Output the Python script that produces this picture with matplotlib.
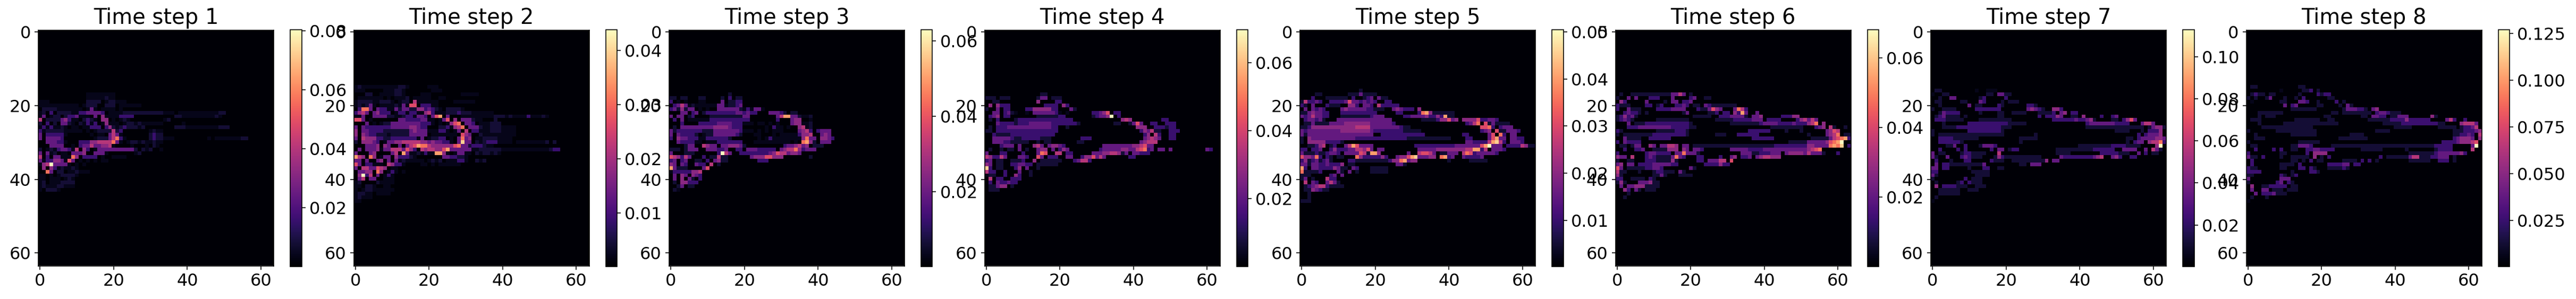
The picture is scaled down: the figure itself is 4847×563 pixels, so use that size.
import numpy as np
import matplotlib
matplotlib.use("Agg")
import matplotlib.pyplot as plt

plt.rcParams['font.size'] = 16

# One string per image row, starting at row 15; each character is one cell, a share of the panel maximum.
# . faint   - 0.05   1..9 tenths   X 1.0   (spaces are only for reading; missing cells are faint)
STEP_1 = ["", "",
"..........  ...-------  -",
"..........  ...-----1-  -",
"---.......  ...1111.-1  1---",
"----------  -.-111..11  1.------",
".1111-----  --.-3-.---  -.-",
"-1.2.1111-  -2233332.-  ---1111111  1111---.--  ---------1  1",
"-3.-11.122  3---.3.4--  --2222....  .......11-  --------1-",
"5.1111342-  -.121-.44.  -.-1-.....  ....-1",
"1.2.1.331-  .1-2-2.-4-  --.-11-1--  ----.....-",
"-2-2--1-.-  -.--222.24  1-12111-1.  .......111  ---------1  11",
"2-11111---  --.-.-1111  512.......  -1--",
"3.22222-..  ....-.--.3  53-.......  1211",
"3.33332...  .....-1113  572-......  1211---...  ......-.--  -----11",
"..33322-..  .222445555  73-.-11-1-  -1--",
"...3333..-  .233533445  -....-...-  .1-",
"1.-1-2332-  5.42.-3333  3333331.1-  1..-",
"3.3-1.--.3  334..333-.  ......-1",
"5.2.33---7  4.2222.-..  ----",
"3-2244 3-6  3.-.-.-.--",
"-45X3333-.  -.-",
".4.42-1--1  -",
"..73.11.--  1---",
"--.-.-1111  -",
"--.---.-1-",
"-1.---1111",
"-1---11---",
"-.111-",
"", "", ""]

STEP_2 = [
"-1--------  --11-.....  ---",
"---.....--  -11-......  .---",
"...11..---  -11-....--  -........-  ----",
".-------.-  .---1.----  -..--",
"-1111--111  -.-11.5---  ---....---  ---",
"-1-13-.---  -1-3-66.22  2--.......",
".2773.322-  -313311442  321-.1111-",
"2453.34222  .-22-22--4  52---11121  11------..",
"--3..33331  1--122-332  .368.3...-  --------11  1-1----2--  -1-",
"663.-.....  ..33222233  --.-36.4.3  331--...1.",
"...3.-.-11  3333333322  2-.-.-467.  332.---111",
"3.32222222  3333344322  ...112-457  .3331--111  ----",
"4.33222211  1111134333  ---22-.-3.  5.22---111  ----",
"4.4322111-  1111133333  .-------.6  43..1-----  ----",
"3.54442211  2222222-3.  -1122.-.37  34.--1111-  ---",
"1.44432.-3  3445555544  343322-.39  33.1-1222-  ---.------  --1.1",
"...3334.43  ..3.356877  5444444673  31222 1--",
".3.3334-33  5553642.54  5544683333  33--111111  ----------  ---1 22",
"3...34....  35.83--1-2  --884-.-33  --.1-11-1-  ..........",
"8 5 4.7 4.-3 3  .422 21-...  ....3 3 2 2 1 1  -.....",
"33.3..34.3  .3-1-----.  -1-1.---22  -..1-1",
"63.22---.5  422-....--  .-.------.",
"3.5533654.  --.......",
".3344.74.-  2-.-",
".4X25.3.-2  -.",
".35.33..--  -",
"-1....1---  -",
"--.11-..--",
"-.-11-----  -",
"-11--.----",
"-1---.",
"--"]

STEP_3 = [
"", "",
"..........  ......1...",
"11.11...11  ....1.2.11",
"2.-.-...--  ....3.1122",
".2353-1---  ---33-1123",
"231 4 1 3 3.-.-  ..3333331-  2-33-....",
"...33.23.1  2222222233  2322...333  21.11.",
"3.33.12...  .111111111  33.......3  58 8 3 3 1--1",
".2.3.-----  -222222222  22.......2  ...34 4..-.",
"...2....22  2223333222  ---.--.-.-  ...344--1.",
".1.3333333  3344443222  ......-.2-  -.-..45-1",
"3122222221  1133333332  ---.-.-.--  -....3 4 5 2.  2 3 3 3",
"3.322221.-  1133333321  ...--...-.  -----2 4 4 5.  .3 4 3",
"2.433222--  222222 1...  ....-.-2--  ------47 33  .4432",
"..32222--.  ---2222222  ...-------  ---.-.7841  .333",
"....133..5  433.334443  1.........  .233453 4.1  11",
"111.1333..  3332 23..22  .333222 22.  3 4 5 5 7 4 2 3 3 3",
"3...111...  ...2X53..2  2222222346  553443",
"654253...2  .1151 1....  ..34446644  4.......1",
"23.23..11.  2.341 1....  ....222...",
"43.32..322  .5.1......",
"8 3 1 1 1....3  6",
"-22222445",
".3.43.432",
".3.4.31.2",
".1.44222",
"..13.11",
".1-",
"",
"", ""]

STEP_4 = [
"", "",
"..........  .....11",
"111.111...  ....133.111",
"..11......  ....4....2  2",
".4.4222...  ......2222  .42",
"1..3.22...  .22444 4422  ...31",
"..33.231-.  .-.3333332  -.-......2  2 3 4 6.22",
".234.22...  ....111111  22.......1  2 3 3 4 X.2",
".1.2....12  2222222222  2222......  .......454  ........22",
"...3222212  2233333322  222221....  .....11..1  363..22..2  22",
".1.2223333  3333333322  ..1.......  ..........  .444..2221  22",
"11.2222222  2222222222  ..........  ..........  ..2 4 3 5 1 1..2  22",
"..21111222  222222222.  ..........  ..........  ...24.52..  22",
"..33333211  2222211 1..  ......222.  ..........  ...34543..  22",
"..33322111  11..1.11..  .....11...  ..........  ..34555..",
"....2333.3  ...453.344  32........  ..33333333  44563 3",
".1..1.11.3  .1..344.3.  243.......  .233333443  3567 23.33.  3.........  32",
"3...22....  2...376..5  5.22.....3  3344554 13.  33222",
"542253...3  32..63.222  ..33..2446  353......2  2",
"23.11..111  2..4.11111  1...23552.",
"43.11..223  32 2.11111  1",
"92.11...24  .3..1",
"522..2...3  ..1",
"-11..2..42  ..1",
".5.22..222",
".2.322322",
".11344.1",
".111",
"", "", ""]

STEP_5 = [
"",
"..........  ......1",
"....11....  ...11 13 1 1 1 1",
"...2...111  111.2..12 3.  31 1",
"15223 2..22  2236 33 2 3 2  3 2..2 2",
"21.3...211  1..442.332  .5 2 2 2 2 2",
".3.3232...  .34 3 3 3 3 3 2 2  111..34322  2.4",
"1134332 2..  .222222222  2.....22..  ..27841111  11",
"32353322..  .111111112  333.....22  3333422428  11",
".233231...  3333333333  33333.....  ...1111244  634.44446 2  2332",
".113111133  3344444443  333332....  ..........  .....2357.  613 1111",
"1124444444  4444455553  3333333 211  ..........  .........6  672.2333",
"3233333333  3444444443  2222222211  111.......  .........2  34.6113332",
"3133333333  3333333333  ..22222222  2222......  ....22....  .36.72.33",
"1.43333333  3333322222  2222222221  1111111111  1....22...  .36833.332 2",
"1.44444222  21........  ..........  ..........  .....33222  258952.333  2",
"..1124 5.12  ..35863333  ..........  .222222222  2233333336  8X333.2222  5411",
"22.223..24  2223355463  .33.......  ..33333444  4444455882  5.3332",
"3111211233  2.33336518  84.......3  ..56653.11  333.576233  3332",
"6443 72.21.  11...74222  2242..3446  8933344.78  23..32222 3",
"2412312 31.  ...2211111  1111244783  44........  1.....  11111",
"3313322322  24.11.....  ......331",
"82.3322224  311.32...1  1111",
"71111 2....  31.3.1...1  1111",
"111.....23  .3",
"13.1...52 2",
".5.32..3531",
".12345521 1  11",
".11432 11",
"..1",
"..1",
"111"]

STEP_6 = [
"", "",
".1..111111  1111133 5 3.  1",
"1..3.3...2  22...3....  23..11",
".42.....3.  ...1.33.22  3",
"211 1....22  .12...2232  .11.32 1 1 1 1  1 1 1",
"2..311 1...  .22223333.  ..2113643.  ..3752....",
"..23221.1.  ........1  3.....112.  22.4 2 8 3..3",
"124231....  ..........  .11111..22  2333 31.334  .....22244",
"123 21.....  .111111111  .......111  1122222333  .2222....2  45353",
"...3.11122  2222222222  1.........  .111111112  3333222232  22457.4",
"...2223333  3333322222  11........  ..........  ..11111111  1...234.51  ..1",
"21........  .11111222 1  ..........  ......2222  22....1...  1......3465",
"1.11111111  2222222221  .......111  ...222222.  ..........  ..1....345  7.11",
"..3 1 1 1 1..22  2222......  ..........  ......2222  22........  ..11111356  78 2",
"2.32222...  ..........  ..........  ..........  .......111  1133333467  8X",
".11.133..4  3.33554.33  .111111111  1111111111  1112222222  2244333378  79.2",
"..2..223..  1111444.43  .332......  .333332222  3333333333  334567",
"2.......23  3222 2.3373  331.......  ....333112  22333.3444  4353 3 3 1...2",
"433.5...23  2111137 32.  ..22....2.  .34.223.34  55444",
"1..11...22  21111 41...  ..22.33355  .6",
"34.33.2222  3333322...  ....22224 2  2",
"63.1111122  33 2.......  31",
"511...1...  12 2111.31",
"41........  113 1...1111",
"22..1111.2  1",
"141...3334  11",
".3.33 444111  1",
"..42.31.11  1",
"...1",
"..1",
"", ""][:32]

STEP_7 = [
"",
".11.......  ..-..---",
"-..11.....  .....11.33  11",
"..1..33...  ...12.....  2",
".11.....11  ...32....1  .111",
"..1.......  3.11....21  ......221",
"1..1111...  ..2222222.  ......3432  1..442",
"..132222..  ...1....11  ..1111...1  1112.34.22",
".123111 1.1  ........11  .........2  .22243..11  .4....2..2  3",
".22211111.  ...1111111  11........  ...2222223  22341....1  1.2463",
"...1......  2222222222  21111 1....  ..........  ..23333333  2222...355  3",
"...1111222  2222222221  11........  ..........  ..11111111  11111111.1  344 1 1",
"1.........  2222222221  ..........  ..........  ..........  1111...1.2  224",
"1.11111111  1111111111  ........1.  ..........  ..........  ......2.23  334",
"..22221111  111.......  ....11111.  ..........  ..........  ...11.2333  3443",
"..22222 21.  ..........  ....1.....  ..........  ..........  ...1.233.4  5572",
"....113..2  ...13332..  ..........  ..........  1111111112  2221111...  .4X",
"..2....2.2  ......2.33  .122......  ....111111  1111222222  ..3333..3.  531",
"3.11....12  21111...5.  ..........  ....1111..  ......2222  2111..3.2.  11",
"31..3...23  2111...142  1111111111  .....32222  2222345..3  42..22",
".2...1...2  2.....2111  ..11111111  14.33....",
".3.2211111  1 1 1 1 3.....  ....11.333",
"33.22.....  1...22..11  ..",
"22........  .11111",
"31........  ..1111",
"1........2  .111",
".1.....12.  2111",
".4.2222111  ..111",
"..111111..  111",
"..111111",
".1",
"-"]

STEP_8 = [
".11.......  ....11",
".........-  .....112.1",
".1211.11..  ....1....2  122",
"1.1..13...  1..1.2....  ..11",
".-.......1  1...332..1  ....2.1",
"..........  3.23.....1  1....1.31",
"..........  ..1111111.  ......1333  221.34",
"...1111111  ..........  ...11.1111  1111.23321  11",
"...1.111..  ..........  .11.......  .11.332 2.1  1333......  41",
".111......  ...1111111  ..11......  ...1111112  2224222222  ....352..2",
"...1......  1111111111  11111.....  .......111  1122222222  2211....45  553",
".... 111111  11111111..  ..........  ..........  11111.....  ..11111.12  235",
"1.......11  111111111.  ..........  .....1111.  ..........  ......1112  2234",
"..1.......  ..1111111.  ........11  11........  ..........  ......1122  32.5",
"..111.....  ..........  .....11111  111.......  ..........  ......2344  43.4",
"1.........  ....111111  ..........  ..........  ..........  ...2222344  456",
".11.......  ..11333 2..  ...1111111  1111111111  1111111111  122222....  .3X",
"..2....2.2  ..11..2233  2222......  .111111...  ...1......  .12222....  .5",
"2........1  1.....2.44  44........  ..........  ....111111  1233333342",
"3 11.2....1  ..11111.4.  1.2.......  ......2.11  1111355111  22333.1",
".2........  ..11.1.2.1  1.....1111  .2.2.1....  ....111111  ..222.1",
".2.......1  111.2.....  ..22223 3.2  2",
"211......1  1...22.21.  ..111121..",
"2222......  ..1....221",
"11.......2  1.12...",
"3........3  33",
"1.......23  .21",
".4..112222  2.11",
".3..33.111  .111",
"..3.222311  1",
".1...1",
"-"]

STEPS = [STEP_1, STEP_2, STEP_3, STEP_4, STEP_5, STEP_6, STEP_7, STEP_8]
TITLES = [f"Time step {i}" for i in range(1, 9)]
VMAX = [0.0805, 0.0439, 0.0630, 0.0697, 0.0505, 0.0681, 0.1129, 0.1272]
VMIN = [0.0001, 0.0001, 0.0002, 0.0001, 0.00015, 0.0001, 0.0002, 0.0001]
LEVEL = {'.': 0.012, '-': 0.05, 'X': 1.0}
LEVEL.update({str(d): d / 10 for d in range(1, 10)})
FIRST_ROW = 15
SIZE = 64


def grid(rows, vmax):
    g = np.full((SIZE, SIZE), LEVEL['.'])
    for r, text in enumerate(rows):
        cells = text.replace(' ', '')[:SIZE]
        for c, ch in enumerate(cells):
            g[FIRST_ROW + r, c] = LEVEL[ch]
    return g * vmax


W, H = 4847, 563
fig = plt.figure(figsize=(W / 144, H / 144), dpi=144, facecolor='white')
for i in range(8):
    x0 = 72 + 593.5 * i
    ax = fig.add_axes([x0 / W, 1 - 500.5 / H, 443 / W, 443.5 / H])
    im = ax.imshow(grid(STEPS[i], VMAX[i]), cmap='magma',
                   vmin=VMIN[i], vmax=VMAX[i], aspect='auto', interpolation='nearest')
    ax.set_title(TITLES[i], fontsize=20)
    ax.set_xticks([0, 20, 40, 60])
    ax.set_yticks([0, 20, 40, 60])
    cax = fig.add_axes([(x0 + 474) / W, 1 - 502 / H, 21.5 / W, 446.5 / H])
    fig.colorbar(im, cax=cax)

fig.savefig('out.png', dpi=144)
